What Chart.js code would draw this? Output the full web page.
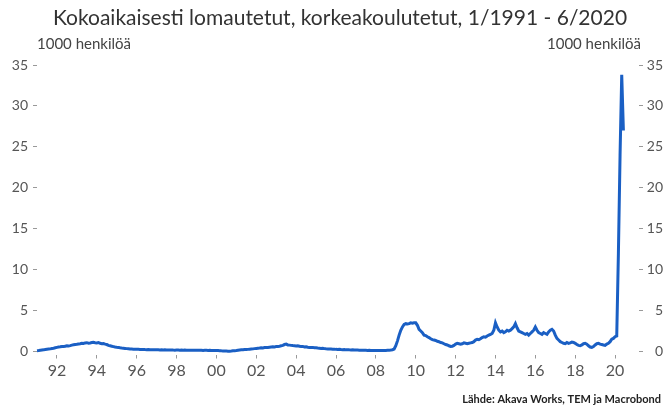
<!DOCTYPE html>
<html>
<head>
<meta charset="utf-8">
<script src="https://cdn.jsdelivr.net/npm/chart.js@4.4.0/dist/chart.umd.min.js"></script>
<style>
  html, body { margin: 0; padding: 0; background: #fff; }
  #wrap { width: 665px; height: 409px; position: relative; }
</style>
</head>
<body>
<div id="wrap"><canvas id="chart"></canvas></div>
<script>
// monthly values, 1000 persons, starting 1/1991
const startYear = 1991;
const values1990s = [
  0.10,0.12,0.15,0.18,0.20,0.25,0.28,0.30,0.32,0.36,0.40,0.45, // 1991
  0.50,0.55,0.58,0.62,0.60,0.65,0.70,0.68,0.72,0.78,0.82,0.85, // 1992
  0.88,0.92,0.95,1.00,0.98,1.05,1.08,1.02,1.05,1.10,1.12,1.08, // 1993
  1.05,1.10,1.00,0.95,0.98,0.90,0.85,0.75,0.70,0.65,0.60,0.55, // 1994
  0.52,0.50,0.45,0.42,0.40,0.38,0.35,0.33,0.30,0.30,0.28,0.28, // 1995
  0.27,0.26,0.25,0.24,0.25,0.23,0.22,0.24,0.22,0.21,0.22,0.20, // 1996
  0.20,0.21,0.19,0.20,0.18,0.20,0.19,0.17,0.18,0.19,0.17,0.16, // 1997
  0.17,0.18,0.16,0.17,0.15,0.17,0.16,0.15,0.16,0.15,0.14,0.15, // 1998
  0.16,0.15,0.14,0.16,0.13,0.15,0.14,0.13,0.14,0.12,0.13,0.12  // 1999
];
const values2000s = [
  0.12,0.11,0.10,0.08,0.07,0.06,0.05,0.04,0.03,0.05,0.08,0.10, // 2000
  0.12,0.15,0.18,0.20,0.22,0.25,0.24,0.26,0.28,0.30,0.32,0.35, // 2001
  0.38,0.40,0.42,0.45,0.43,0.48,0.50,0.48,0.52,0.55,0.58,0.56, // 2002
  0.60,0.62,0.65,0.70,0.75,0.85,0.90,0.80,0.78,0.75,0.72,0.70, // 2003
  0.68,0.70,0.65,0.60,0.62,0.55,0.58,0.52,0.50,0.48,0.50,0.45, // 2004
  0.45,0.42,0.40,0.38,0.40,0.35,0.33,0.32,0.30,0.30,0.28,0.28, // 2005
  0.26,0.25,0.27,0.24,0.22,0.23,0.20,0.22,0.20,0.19,0.21,0.18, // 2006
  0.18,0.17,0.16,0.15,0.16,0.14,0.15,0.13,0.14,0.13,0.12,0.13, // 2007
  0.12,0.13,0.12,0.11,0.12,0.13,0.12,0.14,0.15,0.18,0.22,0.30, // 2008
  0.70,1.30,2.00,2.60,3.00,3.30,3.40,3.35,3.40,3.50,3.45,3.50  // 2009
];
const values2010s = [
  3.50,3.20,2.70,2.50,2.30,2.00,1.95,1.80,1.70,1.55,1.45,1.40, // 2010
  1.35,1.25,1.20,1.10,1.05,0.95,0.85,0.80,0.70,0.62,0.65,0.75, // 2011
  0.90,1.00,0.95,0.90,0.95,1.05,1.00,0.95,1.00,1.05,1.10,1.20, // 2012
  1.40,1.50,1.45,1.55,1.70,1.80,1.75,1.90,2.00,2.10,2.20,2.60, // 2013
  3.50,3.00,2.60,2.40,2.50,2.30,2.40,2.60,2.50,2.60,2.80,3.00, // 2014
  3.40,2.90,2.50,2.40,2.30,2.20,2.10,2.20,2.00,2.20,2.40,2.60, // 2015
  3.00,2.60,2.30,2.20,2.10,2.30,2.20,2.10,2.40,2.60,2.70,2.50, // 2016
  2.00,1.60,1.40,1.20,1.10,1.00,0.95,1.10,1.00,1.05,1.15,1.10, // 2017
  1.00,0.85,0.75,0.70,0.80,0.95,1.00,0.90,0.70,0.55,0.50,0.60, // 2018
  0.80,0.95,1.00,0.90,0.85,0.80,0.75,0.90,1.00,1.20,1.50,1.60  // 2019
];
const values2020s = [1.80,1.90,12.0,24.0,33.8,27.0]; // 1-6/2020

const tickYears = [1992,1994,1996,1998,2000,2002,2004,2006,2008,2010,2012,2014,2016,2018,2020];
const tickLabels = ['92','94','96','98','00','02','04','06','08','10','12','14','16','18','20'];
const yTicks = [0,5,10,15,20,25,30,35];

const titleText = 'Kokoaikaisesti lomautetut, korkeakoulutetut, 1/1991 - 6/2020';
const unitText = '1000 henkilöä';
const sourceText = 'Lähde: Akava Works, TEM ja Macrobond';

const allValues = values1990s.concat(values2000s, values2010s, values2020s);
const points = allValues.map((v, i) => ({ x: startYear + i / 12, y: v }));

const labelColor = '#555';
const font = 'Lato';

const textPlugin = {
  id: 'texts',
  afterDraw(chart) {
    const ctx = chart.ctx;
    ctx.save();
    ctx.textBaseline = 'middle';
    ctx.fillStyle = '#333';
    ctx.font = '21px ' + font;
    ctx.textAlign = 'center';
    ctx.fillText(titleText, 340, 18);
    ctx.fillStyle = '#444';
    ctx.font = '15px ' + font;
    ctx.textAlign = 'left';
    ctx.fillText(unitText, 37, 44);
    ctx.textAlign = 'right';
    ctx.fillText(unitText, 641, 44);
    ctx.fillStyle = '#222';
    ctx.font = 'bold 11px ' + font;
    ctx.fillText(sourceText, 661, 399);
    ctx.restore();
  }
};

function yAxis(pos) {
  return {
    type: 'linear',
    position: pos,
    min: 0,
    max: 35,
    afterBuildTicks: s => { s.ticks = yTicks.map(v => ({ value: v })); },
    afterFit: s => { s.width = pos === 'left' ? 37 : 24; },
    border: { display: false },
    grid: { drawOnChartArea: false, drawTicks: true, tickLength: 4, tickColor: '#999', tickWidth: 1 },
    ticks: {
      color: labelColor,
      font: { family: font, size: 14 },
      padding: 5,
      crossAlign: pos === 'left' ? 'near' : 'far'
    }
  };
}

new Chart(document.getElementById('chart'), {
  type: 'line',
  data: {
    datasets: [{
      data: points,
      borderColor: '#1a5fc4',
      borderWidth: 3,
      pointRadius: 0,
      tension: 0,
      fill: false,
      clip: false,
      yAxisID: 'y'
    }]
  },
  plugins: [textPlugin],
  options: {
    responsive: true,
    maintainAspectRatio: false,
    animation: false,
    layout: { padding: { top: 65, right: 2, bottom: 27.5, left: 0 } },
    plugins: { legend: { display: false }, title: { display: false }, tooltip: { enabled: false } },
    scales: {
      x: {
        type: 'linear',
        min: 1991,
        max: 2021.2,
        afterBuildTicks: s => { s.ticks = tickYears.map(v => ({ value: v })); },
        afterFit: s => { s.height = 30; },
        border: { display: false },
        grid: { drawOnChartArea: false, drawTicks: true, tickLength: 7, tickColor: '#999', tickBorderDash: [0, 3, 4, 10] },
        ticks: {
          color: labelColor,
          font: { family: font, size: 16 },
          padding: 3,
          maxRotation: 0,
          autoSkip: false,
          callback: v => tickLabels[tickYears.indexOf(v)]
        }
      },
      y: yAxis('left'),
      y2: yAxis('right')
    }
  }
});
</script>
</body>
</html>
